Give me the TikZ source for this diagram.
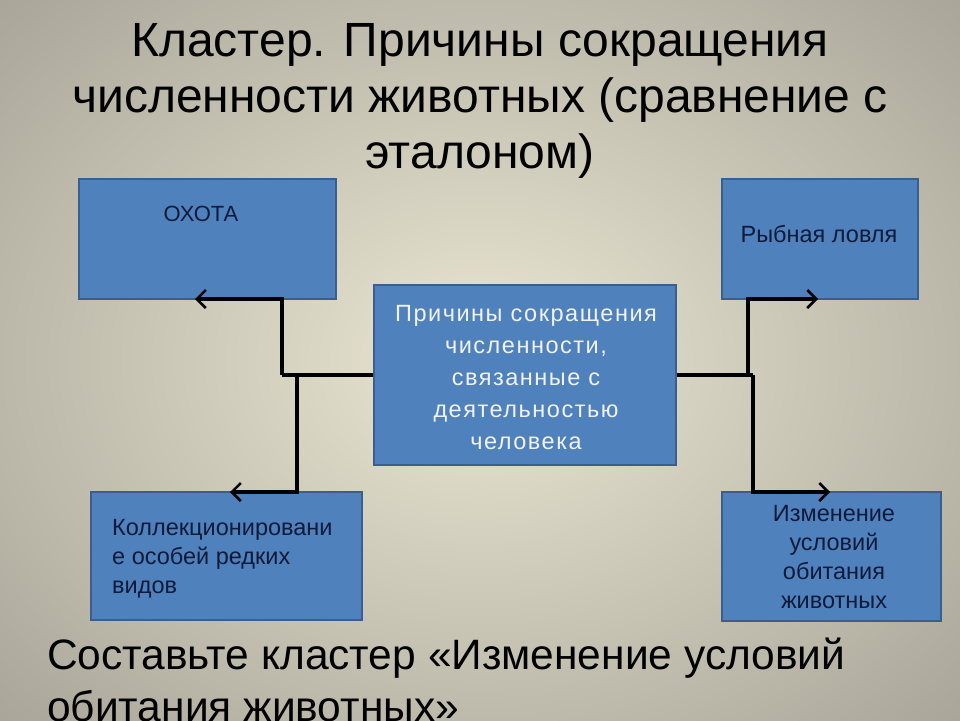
\documentclass[tikz,border=0pt]{standalone}
\usepackage{fontspec}
\setmainfont{Liberation Sans}
\newfontfamily\spacedfont[LetterSpace=6.5]{Liberation Sans}
\usetikzlibrary{arrows.meta}
\definecolor{boxfill}{HTML}{4F81BD}
\definecolor{boxline}{HTML}{3A5F8E}
\definecolor{navy}{HTML}{0E1A3A}
\definecolor{bgin}{HTML}{EAE6D2}
\definecolor{bgout}{HTML}{9E9B90}
\tikzset{
  blockbox/.style={draw=boxline, line width=1.5pt, fill=boxfill, inner sep=0pt},
  boxtext/.style={text=navy, font=\fontsize{23.5}{29}\selectfont, inner sep=0pt},
  centertext/.style={text=white!95!black, font=\spacedfont\fontsize{23.5}{32}\selectfont, inner sep=0pt, align=center},
  titletext/.style={font=\fontsize{48}{56}\selectfont, inner sep=0pt, anchor=base},
  bottomtext/.style={font=\fontsize{42.5}{52}\selectfont, inner sep=0pt, anchor=base west},
  conn/.style={line width=3.5pt, black},
  tipconn/.style={conn, -{Straight Barb[length=9pt,width=18pt,line width=2.5pt]}}
}
\begin{document}
\begin{tikzpicture}[x=1pt,y=-1pt]
\useasboundingbox (0,0) rectangle (960,720);
\shade[inner color=bgin, outer color=bgout] (-300,-250) rectangle (1260,970);
% title
\node[titletext] (t1) at (480,56) {Кластер. Причины сокращения};
\node[titletext] (t2) at (480,112) {численности животных (сравнение с};
\node[titletext] (t3) at (480,168) {эталоном)};
% boxes
\node[blockbox, minimum width=257pt, minimum height=120pt] (oh) at (207.5,239) {};
\node[blockbox, minimum width=196pt, minimum height=120pt] (ry) at (820,239) {};
\node[blockbox, minimum width=302pt, minimum height=180pt] (c) at (525,375) {};
\node[blockbox, minimum width=271pt, minimum height=128pt] (ko) at (226.5,556) {};
\node[blockbox, minimum width=219pt, minimum height=129pt] (iz) at (831.5,556.5) {};
% texts
\node[boxtext, font=\fontsize{22}{29}\selectfont, anchor=base] (ohT) at (201,221) {ОХОТА};
\node[boxtext, anchor=base] (ryT) at (819,242) {Рыбная ловля};
\node[centertext] (cT) at (526,378) {Причины сокращения\\численности,\\связанные с\\деятельностью\\человека};
\node[boxtext, align=left, anchor=west] (koT) at (112,559) {Коллекционировани\\е особей редких\\видов};
\node[boxtext, align=center] (izT) at (834,557) {Изменение\\условий\\обитания\\животных};
% bottom text
\node[bottomtext] (b1) at (47,669) {Составьте кластер «Изменение условий};
\node[bottomtext] (b2) at (47,721) {обитания животных»};
% connectors
\coordinate (jl1) at (282,375);
\coordinate (jl2) at (297,375);
\coordinate (jr1) at (748,375);
\coordinate (jr2) at (753,375);
\coordinate (aoh) at (195,299);
\coordinate (ako) at (230,492);
\coordinate (ary) at (818,299);
\coordinate (aiz) at (830,492);
\draw[conn] (c.west) -- (jl1);
\draw[tipconn] (jl1) |- (aoh);
\draw[tipconn] (jl2) |- (ako);
\draw[conn] (c.east) -- (jr2);
\draw[tipconn] (jr1) |- (ary);
\draw[tipconn] (jr2) |- (aiz);
\end{tikzpicture}
\end{document}
